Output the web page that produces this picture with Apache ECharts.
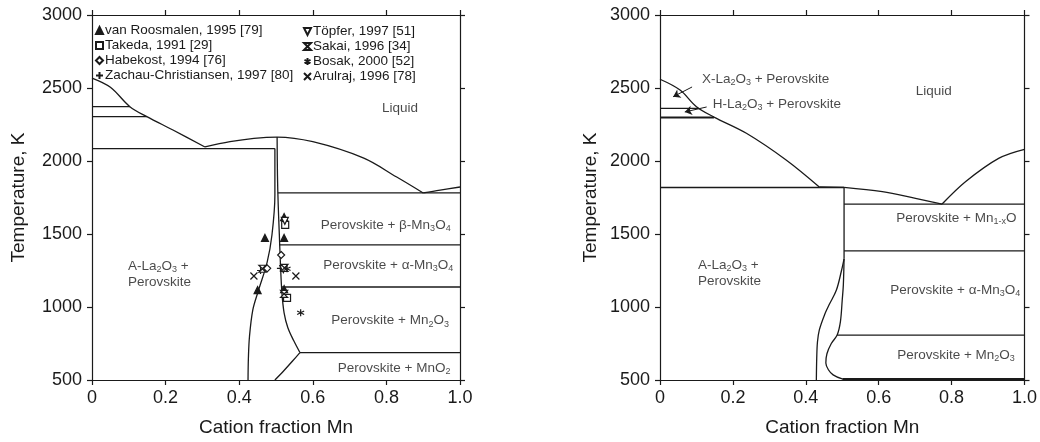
<!DOCTYPE html>
<html><head><meta charset="utf-8">
<script src="https://cdn.jsdelivr.net/npm/echarts@6/dist/echarts.min.js"></script>
<style>html,body{margin:0;padding:0;background:#fff}#c{width:1040px;height:442px}</style>
</head><body><div id="c"></div>
<script>
// ---------- tick labels ----------
const xTickValues = [0, 0.2, 0.4, 0.6, 0.8, 1.0];
const xTickLabels = ['0', '0.2', '0.4', '0.6', '0.8', '1.0'];
const yTickValues = [500, 1000, 1500, 2000, 2500, 3000];
const yTickLabels = ['500', '1000', '1500', '2000', '2500', '3000'];
const xTitle = 'Cation fraction Mn';
const yTitle = 'Temperature, K';

// ---------- left diagram: phase boundaries [x, T] ----------
const L_liquidus = [[0,2568],[0.05,2505],[0.103,2372],[0.149,2304],[0.22,2212],[0.307,2096]];
const L_dome = [[0.307,2096],[0.375,2132],[0.44,2155],[0.503,2164],[0.6,2132],[0.737,2021],[0.828,1890],[0.9,1781]];
const L_liqMn = [[0.9,1781],[0.946,1801],[1.0,1822]];
const L_h2372 = [[0,2372],[0.103,2372]];
const L_h2304 = [[0,2304],[0.149,2304]];
const L_h2085 = [[0,2085],[0.497,2085]];
const L_perovLeft = [[0.497,2085],[0.497,1767],[0.489,1493],[0.476,1308],[0.451,1103],[0.437,980],[0.428,800],[0.425,650],[0.424,500]];
const L_perovRight = [[0.503,2164],[0.504,1900],[0.506,1700],[0.509,1500],[0.512,1300],[0.516,1100],[0.522,960],[0.532,860],[0.548,770],[0.565,688]];
const L_perovLow = [[0.565,688],[0.545,630],[0.52,560],[0.497,500]];
const L_h1781 = [[0.505,1781],[1,1781]];
const L_h1425 = [[0.509,1425],[1,1425]];
const L_h1137 = [[0.514,1137],[1,1137]];
const L_h688 = [[0.565,688],[1,688]];

// ---------- left diagram: experimental points ----------
const vanRoosmalen = [[0.522,1616],[0.47,1473],[0.522,1473],[0.45,1116],[0.522,1123]];
const takeda = [[0.525,1562],[0.53,1062]];
const habekost = [[0.514,1356],[0.476,1265]];
const zachau = [[0.512,1265],[0.458,1250]];
const topfer = [[0.524,1590],[0.52,1260]];
const sakai = [[0.463,1262],[0.523,1268],[0.522,1090]];
const bosak = [[0.567,961],[0.53,1262]];
const arulraj = [[0.44,1212],[0.554,1212]];

// ---------- right diagram: phase boundaries [x, T] ----------
const R_liquidus = [[0,2560],[0.055,2486],[0.1,2372],[0.148,2301],[0.237,2190],[0.346,2007],[0.437,1822]];
const R_flat = [[0.437,1822],[0.505,1820]];
const R_liqMn = [[0.505,1820],[0.61,1790],[0.701,1744],[0.774,1705]];
const R_liqMnO = [[0.774,1705],[0.838,1858],[0.929,2018],[1,2080]];
const R_h2361 = [[0,2361],[0.105,2361]];
const R_h2298 = [[0,2298],[0.148,2298]];
const R_h1818 = [[0,1818],[0.505,1818]];
const R_v505 = [[0.505,1820],[0.505,1330]];
const R_h1705 = [[0.505,1705],[1,1705]];
const R_h1384 = [[0.505,1384],[1,1384]];
const R_h808 = [[0.486,808],[1,808]];
const R_h507 = [[0.5,507],[1,507]];
const R_perovOuter = [[0.505,1330],[0.498,1250],[0.484,1116],[0.465,1020],[0.452,950],[0.437,842],[0.432,760],[0.43,650],[0.429,500]];
const R_perovInner = [[0.505,1330],[0.503,1150],[0.5,1050],[0.495,900],[0.486,808],[0.47,750],[0.458,680],[0.455,616],[0.462,570],[0.475,535],[0.5,507]];

// ---------- annotations ----------
const leftLabels = [
  ['Liquid', 0.837, 2363, 'c'],
  ['A-La{s|2}O{s|3} +\nPerovskite', 0.098, 1226, 'l'],
  ['Perovskite + β-Mn{s|3}O{s|4}', 0.798, 1562, 'c'],
  ['Perovskite + α-Mn{s|3}O{s|4}', 0.805, 1288, 'c'],
  ['Perovskite + Mn{s|2}O{s|3}', 0.81, 906, 'c'],
  ['Perovskite + MnO{s|2}', 0.821, 582, 'c']
];
const rightLabels = [
  ['Liquid', 0.751, 2479, 'c'],
  ['X-La{s|2}O{s|3} + Perovskite', 0.115, 2562, 'l'],
  ['H-La{s|2}O{s|3} + Perovskite', 0.145, 2390, 'l'],
  ['A-La{s|2}O{s|3} +\nPerovskite', 0.104, 1233, 'l'],
  ['Perovskite + Mn{s|1-x}O', 0.813, 1610, 'c'],
  ['Perovskite + α-Mn{s|3}O{s|4}', 0.81, 1116, 'c'],
  ['Perovskite + Mn{s|2}O{s|3}', 0.812, 671, 'c']
];
const rightArrows = [
  [[0.088, 2507], [0.036, 2440]],
  [[0.128, 2370], [0.068, 2336]]
];

const FONT = "'Liberation Sans', Arial, Helvetica, sans-serif";
const INK = '#1a1a1a';

const chart = echarts.init(document.getElementById('c'), null, {renderer: 'canvas'});

const grids = [
  {left: 92, top: 15, width: 368, height: 365},
  {left: 660, top: 15, width: 366, height: 365}
];

function pick(values, labels, v) {
  const i = values.findIndex(t => Math.abs(t - v) < 1e-6);
  return i >= 0 ? labels[i] : '';
}

const xAxes = [], yAxes = [];
grids.forEach((g, gi) => {
  const axisLine = {show: true, onZero: false, lineStyle: {color: INK, width: 1.2}};
  const tick = {show: true, inside: false, length: 5, lineStyle: {color: INK, width: 1.2}};
  xAxes.push({
    gridIndex: gi, type: 'value', min: 0, max: 1, interval: 0.2, position: 'bottom',
    axisLine, axisTick: tick, splitLine: {show: false},
    axisLabel: {fontSize: 18, color: INK, fontFamily: FONT, margin: 9,
      formatter: v => pick(xTickValues, xTickLabels, v)},
    name: xTitle, nameLocation: 'middle', nameGap: 38,
    nameTextStyle: {fontSize: 19, color: INK, fontFamily: FONT}
  });
  xAxes.push({
    gridIndex: gi, type: 'value', min: 0, max: 1, interval: 0.2, position: 'top',
    axisLine, axisTick: tick, axisLabel: {show: false}, splitLine: {show: false}
  });
  yAxes.push({
    gridIndex: gi, type: 'value', min: 500, max: 3000, interval: 500, position: 'left',
    axisLine, axisTick: tick, splitLine: {show: false},
    axisLabel: {fontSize: 18, color: INK, fontFamily: FONT, margin: 10,
      formatter: v => pick(yTickValues, yTickLabels, v)},
    name: yTitle, nameLocation: 'middle', nameGap: gi === 0 ? 64 : 60, nameRotate: 90,
    nameTextStyle: {fontSize: 19, color: INK, fontFamily: FONT}
  });
  yAxes.push({
    gridIndex: gi, type: 'value', min: 500, max: 3000, interval: 500, position: 'right',
    axisLine, axisTick: tick, axisLabel: {show: false}, splitLine: {show: false}
  });
});

function lineS(data, gi, smooth, width) {
  return {
    type: 'line', xAxisIndex: gi * 2, yAxisIndex: gi * 2, data, symbol: 'none',
    smooth: smooth || false, silent: true, animation: false, z: 3,
    lineStyle: {color: INK, width: width || 1.3}
  };
}

const series = [];
[L_liquidus, L_dome, L_liqMn, L_perovLeft, L_perovRight, L_perovLow].forEach(d => series.push(lineS(d, 0, 0.35)));
[L_h2372, L_h2304, L_h2085, L_h1781, L_h1425, L_h1137, L_h688].forEach(d => series.push(lineS(d, 0, false)));
[R_liquidus, R_liqMn, R_liqMnO, R_perovOuter, R_perovInner].forEach(d => series.push(lineS(d, 1, 0.35)));
[R_flat, R_h2361, R_v505, R_h1705, R_h1384, R_h808].forEach(d => series.push(lineS(d, 1, false)));
series.push(lineS(R_h2298, 1, false, 2));
series.push(lineS(R_h1818, 1, false, 1.5));
series.push(lineS(R_h507, 1, false, 2.2));

// arrows
series.push({
  type: 'line', xAxisIndex: 2, yAxisIndex: 2, data: [], symbol: 'none', silent: true, animation: false,
  markLine: {
    silent: true, animation: false, symbol: ['none', 'arrow'], symbolSize: 7,
    lineStyle: {color: INK, width: 1, type: 'solid'}, label: {show: false},
    data: rightArrows.map(a => [{coord: a[0]}, {coord: a[1]}])
  }
});

// experimental points
const pointSets = [
  ['van Roosmalen, 1995 [79]', vanRoosmalen, 'triangle', true],
  ['Takeda, 1991 [29]', takeda, 'rect', false],
  ['Habekost, 1994 [76]', habekost, 'diamond', false],
  ['Zachau-Christiansen, 1997 [80]', zachau, 'path://M5,0L5,10M0,5L10,5', false],
  ['Töpfer, 1997 [51]', topfer, 'path://M0,0L10,0L5,10Z', false],
  ['Sakai, 1996 [34]', sakai, 'path://M0,0L10,0L0,10L10,10Z', false],
  ['Bosak, 2000 [52]', bosak, 'path://M5,0L5,10M0.7,2.5L9.3,7.5M0.7,7.5L9.3,2.5', false],
  ['Arulraj, 1996 [78]', arulraj, 'path://M0,0L10,10M0,10L10,0', false]
];
pointSets.forEach(([name, data, sym, filled]) => {
  series.push({
    type: 'scatter', name, xAxisIndex: 0, yAxisIndex: 0, data, symbol: sym, symbolSize: 7,
    silent: true, animation: false, z: 5,
    itemStyle: {color: filled ? INK : '#fff', borderColor: INK, borderWidth: 1.2, opacity: 1}
  });
});

// text labels
function labelS(list, gi) {
  return {
    type: 'scatter', xAxisIndex: gi * 2, yAxisIndex: gi * 2, symbolSize: 0, silent: true,
    animation: false, z: 6,
    data: list.map(([t, x, y, a]) => ({
      value: [x, y],
      label: {
        show: true, formatter: t,
        position: a === 'l' ? 'right' : 'inside', distance: 0,
        align: a === 'l' ? 'left' : 'center',
        fontSize: 13.5, lineHeight: 16, color: INK, fontFamily: FONT,
        rich: {s: {fontSize: 9, lineHeight: 9, verticalAlign: 'bottom', color: INK, fontFamily: FONT}}
      }
    }))
  };
}
series.push(labelS(leftLabels, 0));
series.push(labelS(rightLabels, 1));

const legendBase = {
  orient: 'vertical', padding: 0, itemGap: 0, itemWidth: 7, itemHeight: 7,
  selectedMode: false, textStyle: {fontSize: 13.5, lineHeight: 15, color: INK, fontFamily: FONT, padding: [0, 0, 0, -3]}
};

chart.setOption({
  backgroundColor: '#fff',
  animation: false,
  grid: grids,
  xAxis: xAxes,
  yAxis: yAxes,
  legend: [
    Object.assign({}, legendBase, {left: 95, top: 23, data: pointSets.slice(0, 4).map(p => p[0])}),
    Object.assign({}, legendBase, {left: 303, top: 24, data: pointSets.slice(4).map(p => p[0])})
  ],
  series
});
</script>
</body></html>
